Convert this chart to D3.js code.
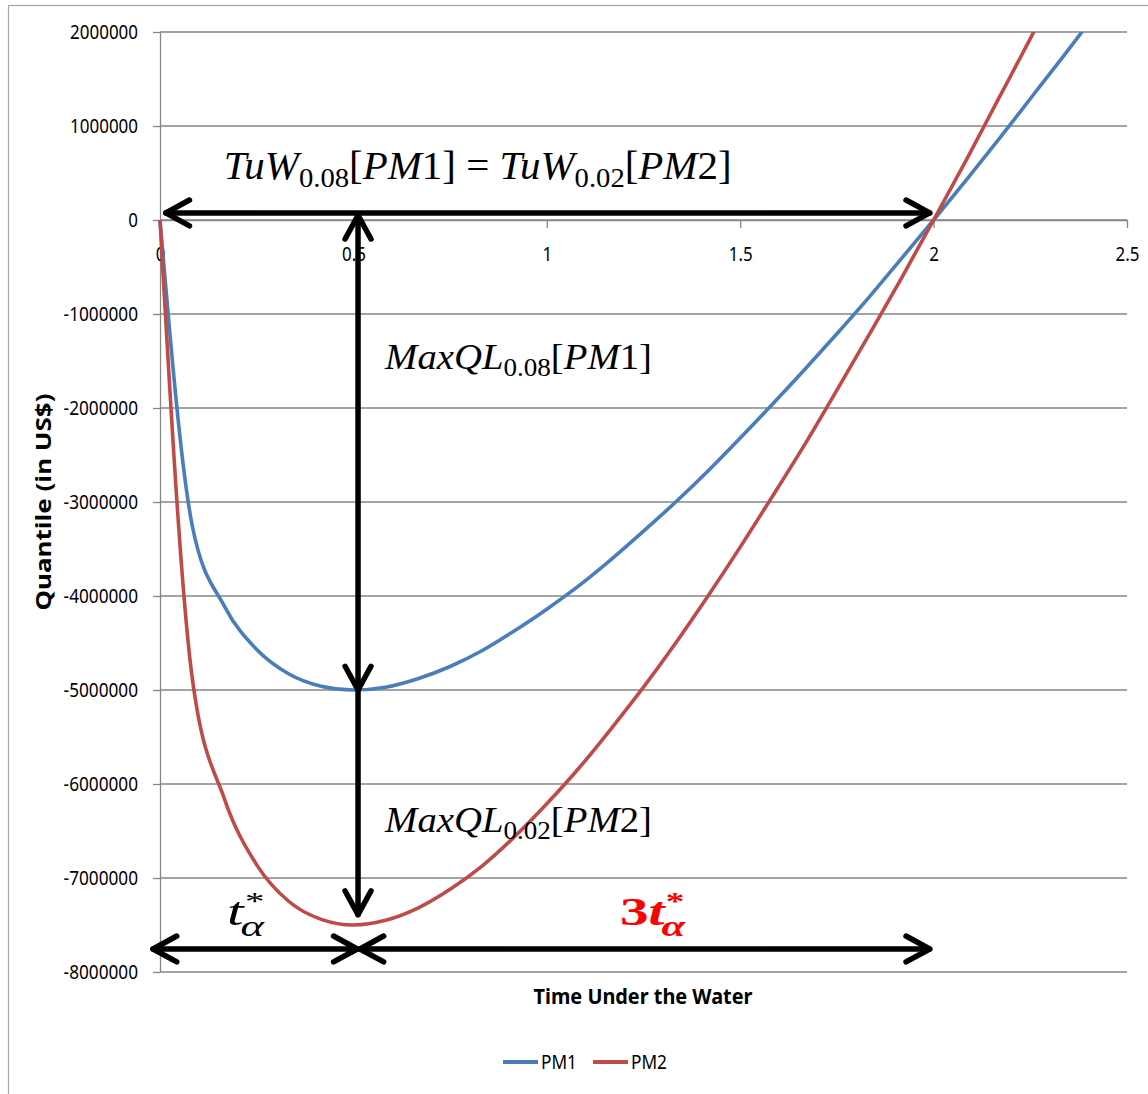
<!DOCTYPE html>
<html>
<head>
<meta charset="utf-8">
<script src="https://cdn.jsdelivr.net/npm/d3@7"></script>
<style>
  body { margin: 0; background: #fff; }
  text { white-space: pre; }
</style>
</head>
<body>
<div id="chart"></div>
<script>
// time under the water (years, monthly steps) and quantiles
const times = [0, 0.0833, 0.1667, 0.25, 0.3333, 0.4167, 0.5, 0.5833, 0.6667, 0.75,
               0.8333, 0.9167, 1, 1.0833, 1.1667, 1.25, 1.3333, 1.4167, 1.5, 1.5833,
               1.6667, 1.75, 1.8333, 1.9167, 2, 2.0833, 2.1667, 2.25, 2.3333, 2.4167, 2.5];
const pm1 = [0, -3250000, -4110000, -4570000, -4830000, -4960000, -5000000, -4970000,
             -4880000, -4750000, -4580000, -4370000, -4140000, -3890000, -3610000,
             -3310000, -3000000, -2670000, -2320000, -1960000, -1590000, -1210000,
             -820000, -410000, 0, 420000, 850000, 1290000, 1730000, 2180000, 2640000];
const pm2 = [0, -4870000, -6160000, -6860000, -7250000, -7440000, -7500000, -7450000,
             -7320000, -7120000, -6870000, -6560000, -6210000, -5830000, -5410000,
             -4970000, -4500000, -4000000, -3480000, -2940000, -2390000, -1810000,
             -1220000, -620000, 0, 630000, 1280000, 1930000, 2600000, 3270000, 3960000];
const seriesNames = ["PM1", "PM2"];
const xTicks = [0, 0.5, 1, 1.5, 2, 2.5];
const yTicks = [2000000, 1000000, 0, -1000000, -2000000, -3000000, -4000000,
                -5000000, -6000000, -7000000, -8000000];
const xTitle = "Time Under the Water";
const yTitle = "Quantile (in US$)";

// annotation anchors, in data units
const tuwArrow = {x1: 0.015, x2: 1.99, y: 75000};
const maxqlArrow = {x: 0.512, y1: 50000, y2: -5000000, y3: -7390000};
const tArrow = {x1: -0.018, x2: 0.51, x3: 0.517, x4: 1.99, y: -7755000};

const colors = ["#4a7ebb", "#be4b48"];
const grid = "#868686";
const W = 1148, H = 1094;

const svg = d3.select("#chart").append("svg")
    .attr("width", W)
    .attr("height", H);

// outer frame of the chart object
svg.append("rect")
    .attr("x", 8.5).attr("y", 5.5)
    .attr("width", 1300).attr("height", 1300)
    .attr("fill", "none")
    .attr("stroke", "#a6a6a6")
    .attr("stroke-width", 1.2);

const x = d3.scaleLinear().domain([0, 2.5]).range([160, 1127]);
const y = d3.scaleLinear().domain([-8000000, 2000000]).range([972, 32]);

// horizontal gridlines
svg.append("g").selectAll("line")
    .data(yTicks)
    .enter().append("line")
    .attr("x1", x(0)).attr("x2", x(2.5))
    .attr("y1", d => y(d)).attr("y2", d => y(d))
    .attr("stroke", grid)
    .attr("stroke-width", 1.3);

// y axis
const yAxis = svg.append("g")
    .attr("transform", "translate(" + x(0) + ",0)")
    .call(d3.axisLeft(y).tickValues(yTicks).tickSize(7).tickSizeOuter(0)
        .tickPadding(15).tickFormat(d => String(d)));

// x axis sits on zero
const xAxis = svg.append("g")
    .attr("transform", "translate(0," + y(0) + ")")
    .call(d3.axisBottom(x).tickValues(xTicks).tickSize(8).tickSizeOuter(0)
        .tickPadding(20).tickFormat(d => String(d)));

// narrow label widths, like the condensed font of the original
function labelWidth(s) {
  let w = 0;
  for (const c of s) w += c === "-" ? 6.5 : c === "." ? 4.5 : 9.7;
  return w;
}
[xAxis, yAxis].forEach(a => {
  a.selectAll("path, line").attr("stroke", grid).attr("stroke-width", 1.3);
  a.selectAll("text")
    .attr("fill", "#000")
    .attr("font-family", "Noto Sans")
    .attr("font-size", 19)
    .attr("textLength", function() { return labelWidth(this.textContent); })
    .attr("lengthAdjust", "spacingAndGlyphs");
});

// fit a group to a given width by squeezing horizontally
function fit(g, px, py, width, rotate) {
  const bb = g.node().getBBox();
  const s = width / bb.width;
  g.attr("transform", "translate(" + px + "," + py + ")" +
    (rotate ? " rotate(" + rotate + ")" : "") + " scale(" + s + ",1)");
}

// axis titles
const xt = svg.append("g");
xt.append("text")
    .attr("font-family", "Noto Sans")
    .attr("font-weight", "bold")
    .attr("font-size", 22)
    .attr("text-anchor", "middle")
    .text(xTitle);
fit(xt, 643, 1004, 219);

const yt = svg.append("g");
yt.append("text")
    .attr("font-family", "Noto Sans")
    .attr("font-weight", "bold")
    .attr("font-size", 22)
    .attr("text-anchor", "middle")
    .text(yTitle);
fit(yt, 51, 502, 217, -90);

// the two series
svg.append("clipPath").attr("id", "plotclip")
    .append("rect")
    .attr("x", x(0) - 3).attr("y", y(2000000))
    .attr("width", x(2.5) - x(0) + 3).attr("height", y(-8000000) - y(2000000));

const line = d3.line()
    .x(d => x(d[0]))
    .y(d => y(d[1]))
    .curve(d3.curveMonotoneX);

[pm1, pm2].forEach((s, i) => {
  svg.append("path")
    .datum(times.map((t, j) => [t, s[j]]))
    .attr("clip-path", "url(#plotclip)")
    .attr("fill", "none")
    .attr("stroke", colors[i])
    .attr("stroke-width", 3.6)
    .attr("d", line);
});

// arrows
const ann = svg.append("g")
    .attr("stroke", "#000")
    .attr("stroke-width", 5.5)
    .attr("stroke-linecap", "round")
    .attr("stroke-linejoin", "round")
    .attr("fill", "none");

function seg(x1, y1, x2, y2) {
  ann.append("line").attr("x1", x1).attr("y1", y1).attr("x2", x2).attr("y2", y2);
}
// open chevron with tip at (tx,ty) pointing to angle a (radians)
function head(tx, ty, a) {
  const len = 27, spread = 0.5;
  const p = d3.path();
  p.moveTo(tx - len * Math.cos(a - spread), ty - len * Math.sin(a - spread));
  p.lineTo(tx, ty);
  p.lineTo(tx - len * Math.cos(a + spread), ty - len * Math.sin(a + spread));
  ann.append("path").attr("d", p.toString());
}

// TuW arrow
seg(x(tuwArrow.x1), y(tuwArrow.y), x(tuwArrow.x2), y(tuwArrow.y));
head(x(tuwArrow.x1), y(tuwArrow.y), Math.PI);
head(x(tuwArrow.x2), y(tuwArrow.y), 0);

// MaxQL arrow
seg(x(maxqlArrow.x), y(maxqlArrow.y1), x(maxqlArrow.x), y(maxqlArrow.y3));
head(x(maxqlArrow.x), y(maxqlArrow.y1), -Math.PI / 2);
head(x(maxqlArrow.x), y(maxqlArrow.y2), Math.PI / 2);
head(x(maxqlArrow.x), y(maxqlArrow.y3), Math.PI / 2);

// t alpha arrows
seg(x(tArrow.x1), y(tArrow.y), x(tArrow.x2), y(tArrow.y));
head(x(tArrow.x1), y(tArrow.y), Math.PI);
head(x(tArrow.x2), y(tArrow.y), 0);
seg(x(tArrow.x3), y(tArrow.y), x(tArrow.x4), y(tArrow.y));
head(x(tArrow.x3), y(tArrow.y), Math.PI);
head(x(tArrow.x4), y(tArrow.y), 0);

// math style labels: [text, kind] with i = italic, r = roman, s = subscript
function mathLabel(parts, dx, dyv, width, size) {
  const g = svg.append("g");
  const t = g.append("text")
      .attr("font-family", "Liberation Serif")
      .attr("font-size", size)
      .attr("fill", "#000");
  let shift = 0;
  parts.forEach(p => {
    const want = p[1] === "s" ? size * 0.2 : 0;
    t.append("tspan")
      .attr("dy", want - shift)
      .attr("font-style", p[1] === "i" ? "italic" : "normal")
      .attr("font-size", p[1] === "s" ? size * 0.7 : size)
      .text(p[0]);
    shift = want;
  });
  fit(g, x(dx), y(dyv), width);
}

mathLabel([["TuW", "i"], ["0.08", "s"], ["[", "r"], ["PM", "i"], ["1", "r"], ["]", "r"],
           [" = ", "r"], ["TuW", "i"], ["0.02", "s"], ["[", "r"], ["PM", "i"], ["2", "r"], ["]", "r"]],
          0.165, 436000, 508, 39);
mathLabel([["MaxQL", "i"], ["0.08", "s"], ["[", "r"], ["PM", "i"], ["1", "r"], ["]", "r"]],
          0.582, -1585000, 268, 35);
mathLabel([["MaxQL", "i"], ["0.02", "s"], ["[", "r"], ["PM", "i"], ["2", "r"], ["]", "r"]],
          0.582, -6510000, 268, 35);

// t*_alpha style label, one text element with stacked super/subscript
function tStar(prefix, dx, dyv, width, color, bold) {
  const g = svg.append("g")
      .attr("fill", color)
      .attr("font-family", "Liberation Serif")
      .attr("font-weight", bold ? "bold" : "normal");
  const main = g.append("text").attr("font-size", 40);
  if (prefix) main.append("tspan").attr("font-style", "normal").text(prefix);
  main.append("tspan").attr("font-style", "italic").text("t");
  const w = main.node().getComputedTextLength();
  main.append("tspan")
    .attr("x", w + 1).attr("dy", -15)
    .attr("font-size", 26)
    .attr("font-style", "normal")
    .text("*");
  main.append("tspan")
    .attr("x", w - 2).attr("dy", 26)
    .attr("font-size", 30)
    .attr("font-style", "italic")
    .text("\u03b1");
  fit(g, x(dx), y(dyv), width);
}
tStar("", 0.173, -7500000, 39, "#000", false);
tStar("3", 1.189, -7500000, 66, "#ff0000", true);

// legend
const legend = svg.append("g");
const legX = [503, 593];
seriesNames.forEach((name, i) => {
  legend.append("line")
    .attr("x1", legX[i]).attr("x2", legX[i] + 35)
    .attr("y1", 1062).attr("y2", 1062)
    .attr("stroke", colors[i])
    .attr("stroke-width", 4);
  legend.append("text")
    .attr("x", legX[i] + 38).attr("y", 1069)
    .attr("font-family", "Noto Sans")
    .attr("font-size", 19)
    .attr("textLength", 36)
    .attr("lengthAdjust", "spacingAndGlyphs")
    .text(name);
});
</script>
</body>
</html>
